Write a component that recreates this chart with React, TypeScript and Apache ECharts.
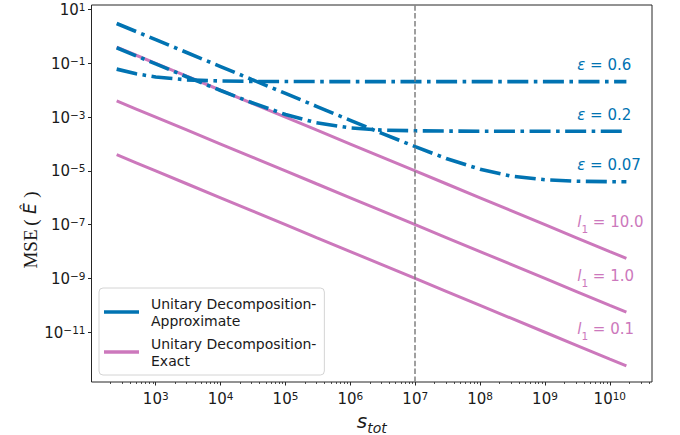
import React, { useEffect, useRef } from "react";
import * as echarts from "echarts";

// ---- data ----
const S_TOT = [250, 500, 1e3, 3e3, 1e4, 3e4, 1e5, 3e5, 1e6, 3e6, 1e7, 3e7, 1e8, 3e8, 1e9, 3e9, 1e10, 1.8e10];

const APPROX_EPS_06 = [0.061, 0.041, 0.031, 0.0243, 0.022, 0.0213, 0.0211, 0.021, 0.021, 0.021, 0.021, 0.021, 0.021, 0.021, 0.021, 0.021, 0.021, 0.021];
const APPROX_EPS_02 = [0.38, 0.19, 0.095, 0.0317, 0.0098, 0.0035, 0.00125, 0.00062, 0.000395, 0.00033, 0.00031, 0.000303, 0.0003, 0.0003, 0.0003, 0.0003, 0.0003, 0.0003];
const APPROX_EPS_007 = [3.04, 1.52, 0.76, 0.253, 0.076, 0.0253, 0.0076, 0.00253, 0.00076, 0.000254, 0.00008, 0.000029, 0.0000115, 0.0000064, 0.0000047, 0.00000415, 0.00000398, 0.00000394];

const EXACT_L1_10 = [0.4, 0.2, 0.1, 0.0333, 0.01, 0.00333, 0.001, 0.000333, 0.0001, 0.0000333, 0.00001, 3.33e-6, 1e-6, 3.33e-7, 1e-7, 3.33e-8, 1e-8, 5.6e-9];
const EXACT_L1_1 = [0.004, 0.002, 0.001, 0.000333, 0.0001, 0.0000333, 0.00001, 3.33e-6, 1e-6, 3.33e-7, 1e-7, 3.33e-8, 1e-8, 3.33e-9, 1e-9, 3.33e-10, 1e-10, 5.6e-11];
const EXACT_L1_01 = [0.00004, 0.00002, 0.00001, 3.33e-6, 1e-6, 3.33e-7, 1e-7, 3.33e-8, 1e-8, 3.33e-9, 1e-9, 3.33e-10, 1e-10, 3.33e-11, 1e-11, 3.33e-12, 1e-12, 5.6e-13];

const X_TICK_EXPONENTS = [3, 4, 5, 6, 7, 8, 9, 10];
const Y_TICK_EXPONENTS = [-11, -9, -7, -5, -3, -1, 1];
const VLINE_S = 1e7;

const APPROX_NAME = "Unitary Decomposition-Approximate";
const EXACT_NAME = "Unitary Decomposition-Exact";

const BLUE = "#0173b2";
const PINK = "#cc78bc";
const AXIS_COLOR = "#262626";

const X_MIN = 2.01;
const X_MAX = 10.65;
const Y_MIN = -12.85;
const Y_MAX = 1.17;

const toPts = (vals: number[]) => S_TOT.map((s, i) => [Math.log10(s), Math.log10(vals[i])]);

const supText = (n: number) => (n < 0 ? "\u2212" + -n : String(n));

const tickRich = {
  b: { fontSize: 15, lineHeight: 16, verticalAlign: "bottom", fontFamily: "DejaVu Sans", color: "#1a1a1a" },
  s: { fontSize: 10.5, lineHeight: 6, verticalAlign: "top", fontFamily: "DejaVu Sans", color: "#1a1a1a" },
};

const annRich = (color: string) => ({
  e: { fontSize: 15, fontStyle: "italic", fontFamily: "DejaVu Sans", color, lineHeight: 20, verticalAlign: "top" },
  n: { fontSize: 15, fontFamily: "DejaVu Sans", color, lineHeight: 20, verticalAlign: "top" },
  sub: { fontSize: 10.5, fontFamily: "DejaVu Sans", color, lineHeight: 10, verticalAlign: "bottom" },
});

const minorTicks: number[] = [];
for (let d = 2; d <= 10; d++) {
  for (let k = 2; k <= 9; k++) {
    const v = d + Math.log10(k);
    if (v > X_MIN && v < X_MAX) minorTicks.push(v);
  }
}

function annotation(text: string, y: number, color: string) {
  return {
    coord: [9.49, y],
    symbol: "circle",
    symbolSize: 1,
    itemStyle: { color: "rgba(0,0,0,0)" },
    label: {
      show: true,
      position: "right",
      distance: 0,
      formatter: text,
      rich: annRich(color),
    },
  };
}

export default function App() {
  const ref = useRef<HTMLDivElement>(null);

  useEffect(() => {
    document.body.style.margin = "0";
    if (!ref.current) return;
    const chart = echarts.init(ref.current, null, { renderer: "svg" });

    const blueLine = { color: BLUE, width: 3.6, type: [21, 5.5, 3.6, 5.5], cap: "butt" };
    const pinkLine = { color: PINK, width: 3, type: "solid" };

    const common = { type: "line", symbol: "none", showSymbol: false, silent: true, xAxisIndex: 0, yAxisIndex: 0 };

    const option: any = {
      animation: false,
      backgroundColor: "#ffffff",
      textStyle: { fontFamily: "DejaVu Sans" },
      grid: {
        left: 91.5,
        right: 28,
        top: 5,
        bottom: 53,
        containLabel: false,
        outerBoundsMode: "none",
        show: true,
        borderColor: AXIS_COLOR,
        borderWidth: 1,
        backgroundColor: "transparent",
      },
      legend: {
        data: [APPROX_NAME, EXACT_NAME],
        left: 99,
        top: 288,
        orient: "vertical",
        icon: "rect",
        itemWidth: 35,
        itemHeight: 3.5,
        itemGap: 6,
        padding: [7, 8, 6, 5],
        backgroundColor: "rgba(255,255,255,0.85)",
        borderColor: "#d4d4d4",
        borderWidth: 1,
        borderRadius: 4,
        selectedMode: false,
        formatter: (name: string) => name.replace("-", "-\n"),
        textStyle: { fontSize: 14, lineHeight: 17, fontFamily: "DejaVu Sans", color: "#1a1a1a", padding: [0, 0, 0, 7] },
      },
      xAxis: [
        {
          type: "value",
          min: X_MIN,
          max: X_MAX,
          position: "bottom",
          axisLine: { show: false, onZero: false },
          splitLine: { show: false },
          axisTick: { show: true, length: 3.5, customValues: X_TICK_EXPONENTS, lineStyle: { color: AXIS_COLOR, width: 1 } },
          axisLabel: {
            customValues: X_TICK_EXPONENTS,
            margin: 8,
            formatter: (v: number) => `{b|10}{s|${supText(Math.round(v))}}`,
            rich: tickRich,
          },
          name: "{s|s}{t|tot}",
          nameLocation: "middle",
          nameGap: 10,
          nameTextStyle: {
            rich: {
              s: { fontSize: 20, fontStyle: "italic", fontFamily: "DejaVu Sans", color: "#1a1a1a", lineHeight: 24, verticalAlign: "top" },
              t: { fontSize: 14, fontStyle: "italic", fontFamily: "DejaVu Sans", color: "#1a1a1a", lineHeight: 12, verticalAlign: "bottom" },
            },
          },
        },
        {
          type: "value",
          min: X_MIN,
          max: X_MAX,
          position: "bottom",
          gridIndex: 0,
          axisLine: { show: false, onZero: false },
          splitLine: { show: false },
          axisLabel: { show: false },
          axisTick: { show: true, length: 2, customValues: minorTicks, lineStyle: { color: AXIS_COLOR, width: 0.8 } },
        },
      ],
      yAxis: {
        type: "value",
        min: Y_MIN,
        max: Y_MAX,
        axisLine: { show: false, onZero: false },
        splitLine: { show: false },
        axisTick: { show: true, length: 3.5, customValues: Y_TICK_EXPONENTS, lineStyle: { color: AXIS_COLOR, width: 1 } },
        axisLabel: {
          customValues: Y_TICK_EXPONENTS,
          margin: 6,
          formatter: (v: number) => `{b|10}{s|${supText(Math.round(v))}}`,
          rich: tickRich,
        },
      },
      graphic: [
        {
          type: "text",
          x: 30,
          y: 230,
          rotation: Math.PI / 2,
          style: {
            text: "{a|MSE\u2009(}{b| Ê }{a|)}",
            align: "center",
            verticalAlign: "middle",
            rich: {
              a: { fontSize: 19, fontFamily: "Liberation Serif", fill: "#1a1a1a" },
              b: { fontSize: 17, fontStyle: "italic", fontFamily: "DejaVu Sans", fill: "#1a1a1a" },
            },
          },
        },
      ],
      series: [
        {
          ...common,
          name: EXACT_NAME,
          color: PINK,
          data: toPts(EXACT_L1_10),
          lineStyle: pinkLine,
          z: 2,
          markLine: {
            silent: true,
            symbol: ["none", "none"],
            label: { show: false },
            lineStyle: { color: "#808080", width: 1.5, type: [5.5, 2.4] },
            emphasis: { disabled: true },
            data: [{ xAxis: Math.log10(VLINE_S) }],
          },
          markPoint: { silent: true, data: [annotation("{e|l}{sub|1}{n| = 10.0}", -6.98, PINK)] },
        },
        {
          ...common,
          name: EXACT_NAME,
          color: PINK,
          data: toPts(EXACT_L1_1),
          lineStyle: pinkLine,
          z: 2,
          markPoint: { silent: true, data: [annotation("{e|l}{sub|1}{n| = 1.0}", -9.0, PINK)] },
        },
        {
          ...common,
          name: EXACT_NAME,
          color: PINK,
          data: toPts(EXACT_L1_01),
          lineStyle: pinkLine,
          z: 2,
          markPoint: { silent: true, data: [annotation("{e|l}{sub|1}{n| = 0.1}", -10.99, PINK)] },
        },
        {
          ...common,
          name: APPROX_NAME,
          color: BLUE,
          data: toPts(APPROX_EPS_06),
          lineStyle: blueLine,
          z: 3,
          markPoint: { silent: true, data: [annotation("{e|ε}{n| = 0.6}", -1.14, BLUE)] },
        },
        {
          ...common,
          name: APPROX_NAME,
          color: BLUE,
          data: toPts(APPROX_EPS_02),
          lineStyle: blueLine,
          z: 3,
          markPoint: { silent: true, data: [annotation("{e|ε}{n| = 0.2}", -3.0, BLUE)] },
        },
        {
          ...common,
          name: APPROX_NAME,
          color: BLUE,
          data: toPts(APPROX_EPS_007),
          lineStyle: blueLine,
          z: 3,
          markPoint: { silent: true, data: [annotation("{e|ε}{n| = 0.07}", -4.87, BLUE)] },
        },
      ],
    };

    chart.setOption(option);
    return () => chart.dispose();
  }, []);

  return <div ref={ref} style={{ width: 680, height: 435 }} />;
}
